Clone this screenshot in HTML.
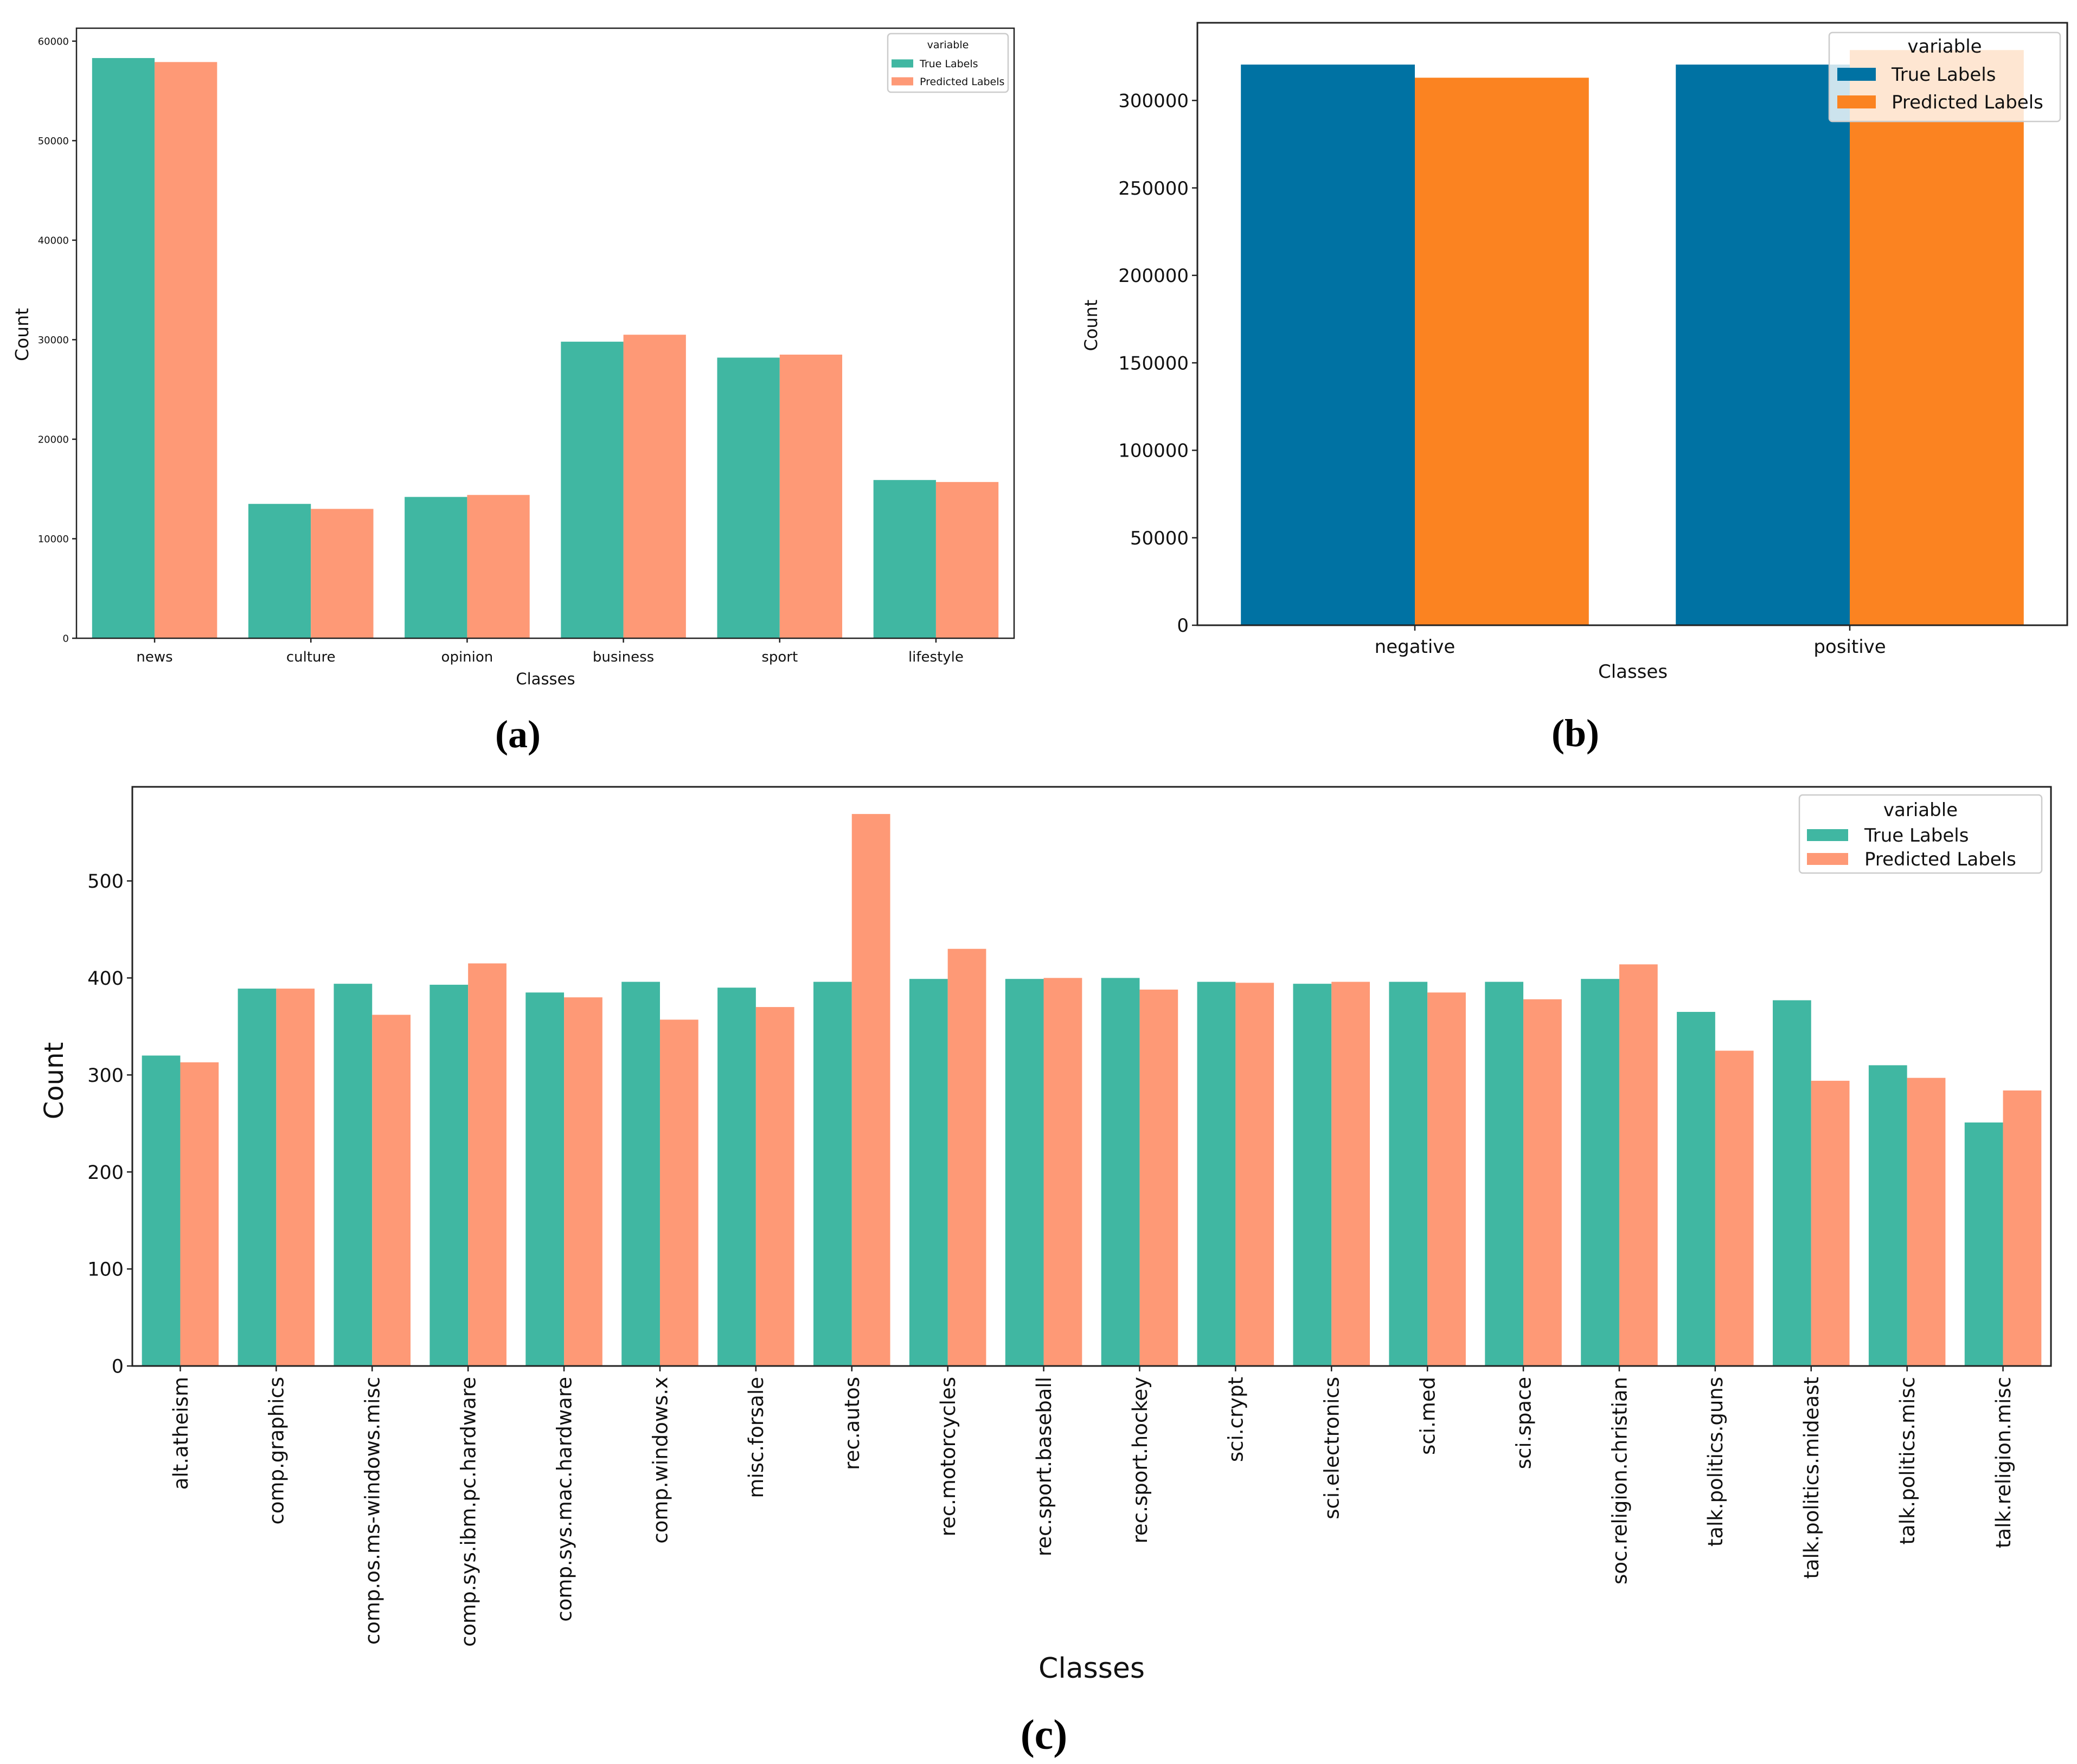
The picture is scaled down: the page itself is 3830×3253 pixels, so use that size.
<!DOCTYPE html>
<html><head><meta charset="utf-8"><style>
html,body{margin:0;padding:0;background:#fff;}
svg{display:block;font-family:"DejaVu Sans","Liberation Sans",sans-serif;}
.cap{font-family:"Liberation Serif",serif;font-weight:bold;}
</style></head><body>
<svg id="fig" width="3830" height="3253" viewBox="0 0 3830 3253" xmlns="http://www.w3.org/2000/svg"></svg>
<script>
// Panel (a)
const aCategories = ["news","culture","opinion","business","sport","lifestyle"];
const aTrue = [58300,13500,14200,29800,28200,15900];
const aPred = [57900,13000,14400,30500,28500,15700];
const aTicks = [0,10000,20000,30000,40000,50000,60000];
// Panel (b)
const bCategories = ["negative","positive"];
const bTrue = [320500,320500];
const bPred = [313000,328800];
const bTicks = [0,50000,100000,150000,200000,250000,300000];
// Panel (c)
const cCategories = ["alt.atheism","comp.graphics","comp.os.ms-windows.misc","comp.sys.ibm.pc.hardware","comp.sys.mac.hardware","comp.windows.x","misc.forsale","rec.autos","rec.motorcycles","rec.sport.baseball","rec.sport.hockey","sci.crypt","sci.electronics","sci.med","sci.space","soc.religion.christian","talk.politics.guns","talk.politics.mideast","talk.politics.misc","talk.religion.misc"];
const cTrue = [320,389,394,393,385,396,390,396,399,399,400,396,394,396,396,399,365,377,310,251];
const cPred = [313,389,362,415,380,357,370,569,430,400,388,395,396,385,378,414,325,294,297,284];
const cTicks = [0,100,200,300,400,500];

const NS="http://www.w3.org/2000/svg";
const svg=document.getElementById('fig');
function mk(tag,attrs,parent,text){const e=document.createElementNS(NS,tag);for(const k in attrs)e.setAttribute(k,attrs[k]);if(text!==undefined)e.textContent=text;(parent||svg).appendChild(e);return e;}

function panel(o){
  const g=mk('g',{});
  
  
  const n=o.cats.length, W=o.right-o.left, step=W/n, bw=step*0.4;
  const y=v=>o.bottom-(v/o.ymax)*(o.bottom-o.top);
  const xc=i=>o.left+step*(i+0.5);
  o.cats.forEach((c,i)=>{
    const r1=mk('rect',{x:xc(i)-bw,y:y(o.t[i]),width:bw,height:o.bottom-y(o.t[i]),fill:o.c1},g);
    
    
    const r2=mk('rect',{x:xc(i),y:y(o.p[i]),width:bw,height:o.bottom-y(o.p[i]),fill:o.c2},g);
    
    
    mk('line',{x1:xc(i),x2:xc(i),y1:o.bottom,y2:o.bottom+o.tick,stroke:'#222','stroke-width':2.5},g);
    let t;
    if(o.rot){
      t=mk('text',{x:0,y:0,transform:`translate(${xc(i)+o.xfs*0.36},${o.bottom+o.tick+10}) rotate(-90)`,'text-anchor':'end','font-size':o.xfs,fill:'#111'},g,c);
    } else {
      t=mk('text',{x:xc(i),y:o.xly,'text-anchor':'middle','font-size':o.xfs,fill:'#111'},g,c);
    }
    
    
  });
  o.ticks.forEach(v=>{
    mk('line',{x1:o.left-o.tick,x2:o.left,y1:y(v),y2:y(v),stroke:'#222','stroke-width':2.5},g);
    const t=mk('text',{x:o.left-o.tick-6,y:y(v)+o.yfs*0.36,'text-anchor':'end','font-size':o.yfs,fill:'#111'},g,String(v));
    
    
  });
  mk('rect',{x:o.left,y:o.top,width:W,height:o.bottom-o.top,fill:'none',stroke:'#222','stroke-width':o.sw},g);
  const xt=mk('text',{x:o.xtx,y:o.xty,'text-anchor':'middle','font-size':o.xtfs,fill:'#111'},g,'Classes');
  
  
  const yt=mk('text',{x:0,y:0,transform:`translate(${o.ytx},${o.yty}) rotate(-90)`,'text-anchor':'middle','font-size':o.ytfs,fill:'#111'},g,'Count');
  
  
  const L=o.leg;
  const lg=mk('g',{},g);
  
  
  mk('rect',{x:L.x,y:L.y,width:L.w,height:L.h,rx:6,fill:'#fff','fill-opacity':0.8,stroke:'#ccc','stroke-width':2.5},lg);
  mk('text',{x:L.x+L.w/2,y:L.vy,'text-anchor':'middle','font-size':L.fs,fill:'#111'},lg,'variable');
  [['True Labels',o.c1,L.e1],['Predicted Labels',o.c2,L.e2]].forEach(([lab,col,ey])=>{
    const eg=mk('g',{},lg);
    
    
    mk('rect',{x:L.px,y:ey-L.ph/2,width:L.pw,height:L.ph,fill:col},eg);
    mk('text',{x:L.tx,y:ey+L.fs*0.36,'font-size':L.fs,fill:'#111'},eg,lab);
  });
  const cp=mk('text',{x:o.capx,y:o.capy,'text-anchor':'middle','font-size':o.capfs,class:'cap',fill:'#000'},g,o.cap);
  
  
}

panel({name:'panel-a',cats:aCategories,t:aTrue,p:aPred,ticks:aTicks,ymax:61300,left:141,right:1870,top:52,bottom:1177,
  c1:'#40b7a2',c2:'#fe9976',tick:8,sw:2.5,xfs:26,xly:1220,yfs:18,xtx:1006,xty:1262,xtfs:29,ytx:52,yty:617,ytfs:33,
  leg:{x:1637,y:62,w:222,h:108,vy:89,e1:117,e2:150,fs:19,px:1644,pw:40,ph:15,tx:1696},
  cap:'(a)',capx:955,capy:1378,capfs:72});
panel({name:'panel-b',cats:bCategories,t:bTrue,p:bPred,ticks:bTicks,ymax:344400,left:2208,right:3812,top:42,bottom:1153,
  c1:'#0072a3',c2:'#fb8321',tick:10,sw:3,xfs:34,xly:1204,yfs:34,xtx:3011,xty:1250,xtfs:34,ytx:2023,yty:600,ytfs:32,
  leg:{x:3373,y:60,w:426,h:164,vy:97,e1:137,e2:188,fs:34,px:3388,pw:71,ph:24,tx:3488},
  cap:'(b)',capx:2905,capy:1376,capfs:72});
panel({name:'panel-c',cats:cCategories,t:cTrue,p:cPred,ticks:cTicks,ymax:597,left:244,right:3782,top:1451,bottom:2519,
  c1:'#40b7a2',c2:'#fe9976',tick:10,sw:3,xfs:37,rot:true,yfs:35,xtx:2013,xty:3094,xtfs:52,ytx:116,yty:1993,ytfs:48,
  leg:{x:3318,y:1466,w:447,h:144,vy:1505,e1:1540,e2:1584,fs:34,px:3332,pw:76,ph:22,tx:3438},
  cap:'(c)',capx:1925,capy:3225,capfs:78});
</script>
</body></html>
